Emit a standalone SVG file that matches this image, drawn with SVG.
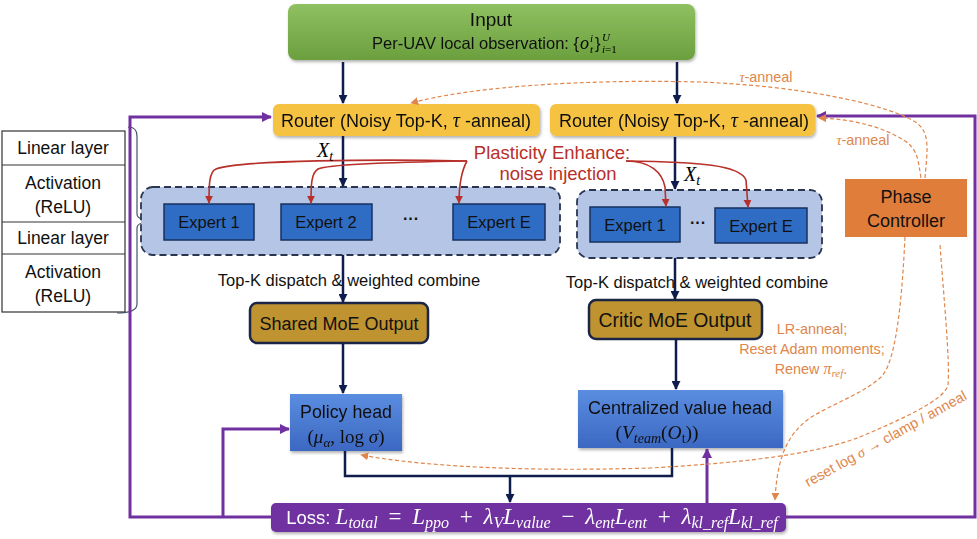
<svg xmlns="http://www.w3.org/2000/svg" width="977" height="539" viewBox="0 0 977 539">
<style>
.sans{font-family:"Liberation Sans",Arial,sans-serif;}
.mi{font-family:"Liberation Serif","Times New Roman",serif;font-style:italic;}
.mr{font-family:"Liberation Serif","Times New Roman",serif;font-style:normal;}
.t{font-family:"Liberation Sans",Arial,sans-serif;fill:#111;text-anchor:middle;}
.or{font-family:"Liberation Sans",Arial,sans-serif;fill:#e0864a;text-anchor:middle;font-size:14.4px;}
.navy{fill:none;stroke:#0f1d4d;stroke-width:2.5;}
.purp{fill:none;stroke:#7030a0;stroke-width:3;}
.red{fill:none;stroke:#b8302a;stroke-width:1.6;}
.dash{fill:none;stroke:#e0864a;stroke-width:1.2;stroke-dasharray:4 2.5;}
.expert{fill:#2f6cc4;stroke:#17305e;stroke-width:1.5;}
.group{fill:#b5c5e6;stroke:#2a3550;stroke-width:1.8;stroke-dasharray:7 4;}
.router{fill:#f6c243;}
.moe{fill:#be9330;stroke:#1b2646;stroke-width:2.5;}
.head{fill:url(#blueg);}
.layer{fill:#fff;stroke:#333;stroke-width:1.2;}
</style>
<defs>
<linearGradient id="greeng" x1="0" y1="0" x2="0" y2="1"><stop offset="0" stop-color="#8fc061"/><stop offset="1" stop-color="#6b9f3e"/></linearGradient>
<linearGradient id="blueg" x1="0" y1="0" x2="0" y2="1"><stop offset="0" stop-color="#5a8de0"/><stop offset="1" stop-color="#3c68c2"/></linearGradient>
<filter id="sh" x="-10%" y="-10%" width="130%" height="140%"><feDropShadow dx="1" dy="2" stdDeviation="1.5" flood-color="#000" flood-opacity="0.3"/></filter>
<marker id="an" viewBox="0 0 10 10" refX="9" refY="5" markerWidth="9" markerHeight="9" markerUnits="userSpaceOnUse" orient="auto"><path d="M0,0 L10,5 L0,10 z" fill="#0f1d4d"/></marker>
<marker id="ap" viewBox="0 0 10 10" refX="9" refY="5" markerWidth="10" markerHeight="10" markerUnits="userSpaceOnUse" orient="auto"><path d="M0,0 L10,5 L0,10 z" fill="#7030a0"/></marker>
<marker id="ar" viewBox="0 0 10 10" refX="9" refY="5" markerWidth="8" markerHeight="8" markerUnits="userSpaceOnUse" orient="auto"><path d="M0,0 L10,5 L0,10 z" fill="#b8302a"/></marker>
<marker id="ao" viewBox="0 0 10 10" refX="9" refY="5" markerWidth="8" markerHeight="8" markerUnits="userSpaceOnUse" orient="auto"><path d="M0,0 L10,5 L0,10 z" fill="#e0864a"/></marker>
</defs>
<rect width="977" height="539" fill="#fff"/>

<!-- left layer stack -->
<g id="layer-stack">
<rect class="layer" x="2" y="131" width="123" height="181"/>
<line x1="2" y1="165" x2="125" y2="165" stroke="#333" stroke-width="1.2"/>
<line x1="2" y1="222" x2="125" y2="222" stroke="#333" stroke-width="1.2"/>
<line x1="2" y1="254" x2="125" y2="254" stroke="#333" stroke-width="1.2"/>
<text class="t" x="63" y="154" font-size="17.5">Linear layer</text>
<text class="t" x="63" y="189" font-size="17.5">Activation</text>
<text class="t" x="63" y="213" font-size="17.5">(ReLU)</text>
<text class="t" x="63" y="244" font-size="17.5">Linear layer</text>
<text class="t" x="63" y="278" font-size="17.5">Activation</text>
<text class="t" x="63" y="302" font-size="17.5">(ReLU)</text>
<path d="M128,127 Q137,127 137,136 L137,214 Q137,221 158,221 Q137,221 137,228 L137,304 Q137,313 117,313" fill="none" stroke="#44546a" stroke-width="1.2"/>
</g>

<!-- nodes -->
<g id="input" filter="url(#sh)">
<rect x="288" y="4" width="407" height="56" rx="8" fill="url(#greeng)"/>
<text class="t" x="491" y="26" font-size="19">Input</text>
<text class="t" x="579" y="49" font-size="16.5" style="text-anchor:end">Per-UAV local observation: {</text>
<text class="mi" x="580" y="49" font-size="18">o</text>
<text class="mi" x="590" y="42" font-size="11">i</text>
<text class="mi" x="590" y="53" font-size="11">t</text>
<text class="sans" x="595" y="49" font-size="16.5" fill="#111">}</text>
<text class="mi" x="602" y="41" font-size="11">U</text>
<text class="mi" x="602" y="53" font-size="11">i<tspan class="mr">=1</tspan></text>
</g>

<g id="router-left" filter="url(#sh)">
<rect class="router" x="273" y="104" width="267" height="32" rx="6"/>
<text class="t" x="406" y="127" font-size="18">Router (Noisy Top-K, <tspan class="mi" font-size="20">τ</tspan> -anneal)</text>
</g>
<g id="router-right" filter="url(#sh)">
<rect class="router" x="550" y="104" width="265" height="32" rx="6"/>
<text class="t" x="684" y="127" font-size="18">Router (Noisy Top-K, <tspan class="mi" font-size="20">τ</tspan> -anneal)</text>
</g>

<g id="experts-left">
<rect class="group" x="141" y="187" width="419" height="68" rx="12"/>
<g id="expert-l1"><rect class="expert" x="164" y="204" width="90" height="36"/><text class="t" x="209" y="228" font-size="16.5">Expert 1</text></g>
<g id="expert-l2"><rect class="expert" x="281" y="204" width="91" height="36"/><text class="t" x="326" y="228" font-size="16.5">Expert 2</text></g>
<text class="t" x="411" y="224" font-size="16" font-weight="bold">···</text>
<g id="expert-lE"><rect class="expert" x="453" y="204" width="92" height="36"/><text class="t" x="499" y="228" font-size="16.5">Expert E</text></g>
</g>

<g id="experts-right">
<rect class="group" x="577" y="190" width="245" height="68" rx="12"/>
<g id="expert-r1"><rect class="expert" x="590" y="207" width="90" height="35"/><text class="t" x="635" y="231" font-size="16.5">Expert 1</text></g>
<text class="t" x="698" y="228" font-size="16" font-weight="bold">···</text>
<g id="expert-rE"><rect class="expert" x="715" y="208" width="92" height="35"/><text class="t" x="761" y="232" font-size="16.5">Expert E</text></g>
</g>

<g id="shared-moe">
<rect class="moe" x="250" y="303" width="178" height="40" rx="7"/>
<text class="t" x="339" y="330" font-size="18">Shared MoE Output</text>
</g>
<g id="critic-moe">
<rect class="moe" x="589" y="300" width="173" height="39" rx="7"/>
<text class="t" x="675" y="327" font-size="19.4">Critic MoE Output</text>
</g>

<g id="policy-head" filter="url(#sh)">
<rect class="head" x="290" y="394" width="112" height="57"/>
<text class="t" x="346" y="418" font-size="17.8">Policy head</text>
<text class="t" x="346" y="443" font-size="19"><tspan class="mr">(</tspan><tspan class="mi">μ</tspan><tspan class="mi" font-size="13" dy="4">α</tspan><tspan class="mr" dy="-4">, log </tspan><tspan class="mi">σ</tspan><tspan class="mr">)</tspan></text>
</g>

<g id="value-head" filter="url(#sh)">
<rect class="head" x="578" y="390" width="205" height="58"/>
<text class="t" x="680" y="414" font-size="18">Centralized value head</text>
<text class="t" x="657" y="439" font-size="19.5"><tspan class="mr">(</tspan><tspan class="mi">V</tspan><tspan class="mi" font-size="14" dy="4">team</tspan><tspan class="mr" dy="-4">(</tspan><tspan class="mi">O</tspan><tspan class="mr" font-size="14" dy="4">t</tspan><tspan class="mr" dy="-4">))</tspan></text>
</g>

<g id="phase-controller">
<rect x="845" y="179" width="122" height="58" fill="#e07d3b"/>
<text class="t" x="906" y="203" font-size="18">Phase</text>
<text class="t" x="906" y="227" font-size="18">Controller</text>
</g>

<g id="loss" filter="url(#sh)">
<rect x="271" y="503" width="515" height="29" rx="5" fill="#7030a0"/>
<text x="532" y="524" fill="#fff" font-size="23" text-anchor="middle" class="mi"><tspan class="sans" font-style="normal" font-size="18.5">Loss: </tspan>L<tspan font-size="16" dy="4">total</tspan><tspan class="mr" dy="-4" dx="5"> = </tspan><tspan dx="5">L</tspan><tspan font-size="16" dy="4">ppo</tspan><tspan class="mr" dy="-4" dx="5"> + </tspan><tspan dx="5">λ</tspan><tspan font-size="16" dy="4">V</tspan><tspan dy="-4">L</tspan><tspan font-size="16" dy="4">value</tspan><tspan class="mr" dy="-4" dx="5"> − </tspan><tspan dx="5">λ</tspan><tspan font-size="16" dy="4">ent</tspan><tspan dy="-4">L</tspan><tspan font-size="16" dy="4">ent</tspan><tspan class="mr" dy="-4" dx="5"> + </tspan><tspan dx="5">λ</tspan><tspan font-size="16" dy="4">kl_ref</tspan><tspan dy="-4">L</tspan><tspan font-size="16" dy="4">kl_ref</tspan></text>
</g>

<!-- connectors -->
<g id="connectors">
<path class="navy" d="M343,62 V103" marker-end="url(#an)"/>
<path class="navy" d="M677,62 V103" marker-end="url(#an)"/>
<path class="navy" d="M343,136 V186" marker-end="url(#an)"/>
<path class="navy" d="M675,137 V189" marker-end="url(#an)"/>
<path class="navy" d="M343,255 V302" marker-end="url(#an)"/>
<path class="navy" d="M675,258 V299" marker-end="url(#an)"/>
<path class="navy" d="M343,343 V393" marker-end="url(#an)"/>
<path class="navy" d="M676,339 V389" marker-end="url(#an)"/>
<path class="navy" d="M345,451 V476 H672 V448"/>
<path class="navy" d="M510,476 V502" marker-end="url(#an)"/>

<path class="purp" d="M271,517 H130 V117 H271" marker-end="url(#ap)"/>
<path class="purp" d="M223,517 V429 H289" marker-end="url(#ap)"/>
<path class="purp" d="M786,517 H975 V116 H817" marker-end="url(#ap)"/>
<path class="purp" d="M707,503 V449" marker-end="url(#ap)"/>

<path class="red" d="M467,161 C380,159 240,160 216,169 C209,172 209,185 209,203" marker-end="url(#ar)"/>
<path class="red" d="M467,161 C400,162 330,164 318,169 C311,173 311,186 311,203" marker-end="url(#ar)"/>
<path class="red" d="M467,161 C462,170 459,185 459,203" marker-end="url(#ar)"/>
<path class="red" d="M626,161 C650,161 662,172 665,187 L666,206" marker-end="url(#ar)"/>
<path class="red" d="M626,161 C700,162 740,165 746,180 L748,207" marker-end="url(#ar)"/>

<path class="dash" d="M925,178 C927,150 932,130 912,120 C880,103 800,86 700,82 C580,79 470,87 411,103" marker-end="url(#ao)"/>
<path class="dash" d="M921,178 C918,160 918,150 905,141 C885,128 855,119 819,118" marker-end="url(#ao)"/>
<path class="dash" d="M905,237 C902,300 896,365 880,378 C862,394 832,404 810,418 C786,435 777,460 775,500" marker-end="url(#ao)"/>
<path class="dash" d="M940,245 C944,300 950,360 948,385 C945,400 900,420 860,437 C820,452 760,462 650,468 C520,472 420,466 361,455" marker-end="url(#ao)"/>
</g>

<!-- connector labels -->
<g id="labels">
<text x="552" y="159" font-size="18.5" fill="#b8302a" class="sans" text-anchor="middle">Plasticity Enhance:</text>
<text x="558" y="180" font-size="18.5" fill="#b8302a" class="sans" text-anchor="middle">noise injection</text>
<text x="325" y="157" font-size="20" class="mi" text-anchor="middle">X<tspan font-size="14" dy="4">t</tspan></text>
<text x="692" y="181" font-size="20" class="mi" text-anchor="middle">X<tspan font-size="14" dy="4">t</tspan></text>
<text class="t" x="349" y="286" font-size="16.5">Top-K dispatch &amp; weighted combine</text>
<text class="t" x="697" y="288" font-size="16.5">Top-K dispatch &amp; weighted combine</text>
<text class="or" x="766" y="82"><tspan class="mi">τ</tspan>-anneal</text>
<text class="or" x="863" y="145"><tspan class="mi">τ</tspan>-anneal</text>
<text class="or" x="812" y="334">LR-anneal;</text>
<text class="or" x="812" y="354">Reset Adam moments;</text>
<text class="or" x="811" y="374">Renew <tspan class="mi" font-size="16">π</tspan><tspan class="mi" font-size="11" dy="3">ref</tspan><tspan dy="-3">.</tspan></text>
<text class="or" x="0" y="0" font-size="14.5" transform="translate(888,443) rotate(-29)">reset log <tspan class="mi">σ</tspan> → clamp / anneal</text>
</g>
</svg>
